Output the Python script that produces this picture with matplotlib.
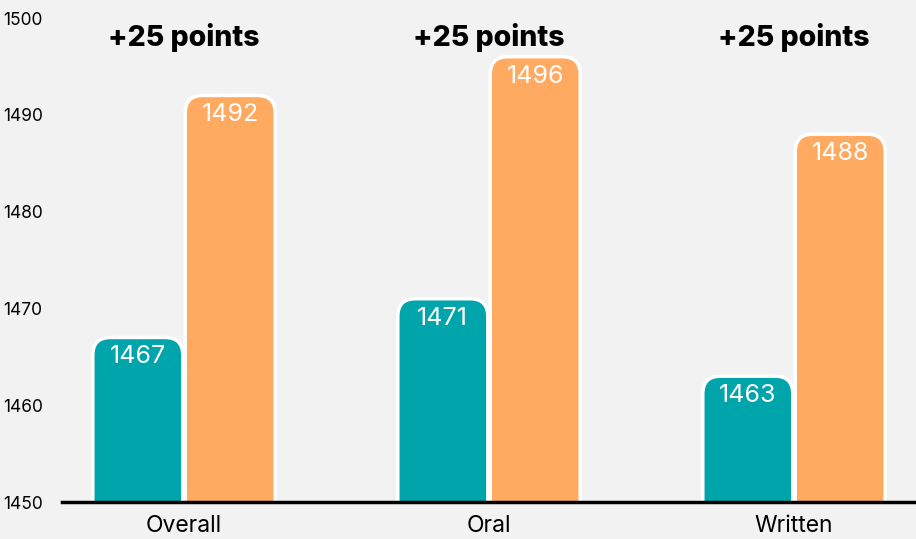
import matplotlib.pyplot as plt
from matplotlib.patches import FancyBboxPatch
import numpy as np

categories = ['Overall', 'Oral', 'Written']
before = [1467, 1471, 1463]
after = [1492, 1496, 1488]
gain_labels = ['+25 points', '+25 points', '+25 points']

teal = '#00A5AB'
orange = '#FFAA60'
bg = '#F2F2F2'

plt.rcParams['font.family'] = ['Inter', 'DejaVu Sans']

fig = plt.figure(figsize=(9.16, 5.39), dpi=100, facecolor=bg)
ax = fig.add_axes([0.0677, 0.0686, 0.9323, 0.898])
ax.set_facecolor(bg)

x = np.arange(len(categories))
w = 0.295
ymin, ymax = 1450, 1500
ax.set_xlim(-0.4, 2.4)
ax.set_ylim(ymin, ymax)

# rounded top corners: aspect between x units and y units in pixels
px_x = 0.9323 * 916 / 2.8
px_y = 0.898 * 539 / (ymax - ymin)
aspect = px_x / px_y
r = 0.058


def rounded_bar(xc, val, color):
    p = FancyBboxPatch((xc - w / 2 + r, ymin - 10), w - 2 * r, val - (ymin - 10) - r * aspect,
                       boxstyle='round,pad=%f' % r, mutation_aspect=aspect,
                       facecolor=color, edgecolor='white', linewidth=2.5, zorder=2)
    ax.add_patch(p)
    p.set_clip_on(True)


for i in x:
    rounded_bar(i - w / 2 - 0.004, before[i], teal)
    rounded_bar(i + w / 2 + 0.004, after[i], orange)
    ax.annotate(str(before[i]), (i - w / 2 - 0.004, before[i]), xytext=(0, -14),
                textcoords='offset points', ha='center', va='center',
                color='white', fontsize=18, zorder=3)
    ax.annotate(str(after[i]), (i + w / 2 + 0.004, after[i]), xytext=(0, -14),
                textcoords='offset points', ha='center', va='center',
                color='white', fontsize=18, zorder=3)
    ax.text(i, 1498, gain_labels[i], ha='center', va='center', fontsize=20.5,
            fontweight='heavy', color='black', zorder=4)

ax.set_xticks(x)
ax.set_xticklabels(categories, fontsize=16.5)
ax.set_yticks(np.arange(1450, 1501, 10))
ax.tick_params(axis='y', length=0, labelsize=12.5, pad=14)
ax.tick_params(axis='x', length=0, pad=9)
for s in ['top', 'right', 'left']:
    ax.spines[s].set_visible(False)
ax.spines['bottom'].set_linewidth(2.5)
ax.spines['bottom'].set_zorder(5)

fig.savefig('out.png', dpi=100, facecolor=bg)
